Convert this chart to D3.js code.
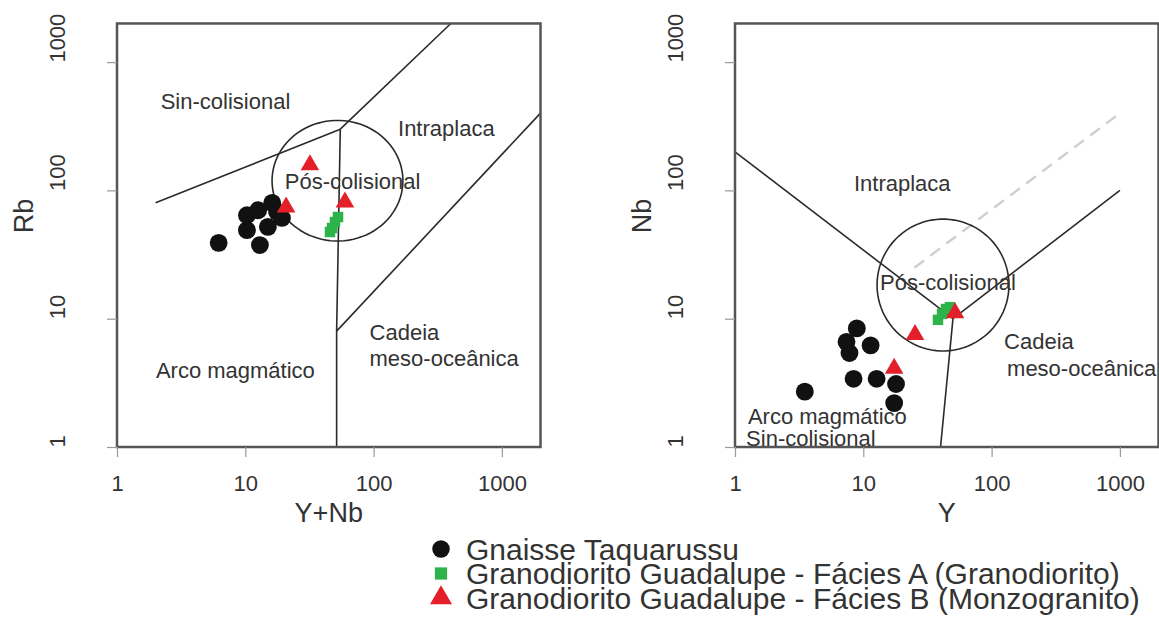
<!DOCTYPE html>
<html>
<head>
<meta charset="utf-8">
<script src="https://cdn.jsdelivr.net/npm/d3@7"></script>
<style>
  body { margin: 0; background: #fff; }
  text { font-family: "Liberation Sans", Arial, sans-serif; fill: #333; }
</style>
</head>
<body>
<div id="viz"></div>
<script>
// ---- data ----
// Rb vs Y+Nb
let gnaisseYNb = [6.2, 10.3, 13.0, 10.3, 12.6, 16.2, 15.0, 19.3, 17.7]
let gnaisseRb  = [39, 49, 37.5, 64, 70, 80, 52, 61, 68]
let faciesAYNb = [45.7, 47.4, 50.0, 52.8]
let faciesARb  = [47.4, 50.9, 56.7, 62]
let faciesBYNb = [31.9, 20.8, 59.8]
let faciesBRb  = [158, 74, 81]

// Nb vs Y
let gnaisseY  = [3.5, 8.9, 7.4, 7.8, 11.4, 8.4, 12.7, 18.0, 17.4]
let gnaisseNb = [2.7, 8.4, 6.6, 5.4, 6.2, 3.4, 3.4, 3.1, 2.2]
let faciesAY  = [38.2, 41.1, 44.1, 47.4]
let faciesANb = [9.8, 10.9, 11.9, 12.3]
let faciesBY  = [25.3, 17.4, 51.9]
let faciesBNb = [7.5, 4.1, 11.1]

// field boundaries (Pearce et al. 1984)
let rbLines = [
  [[2, 80], [55, 300]],
  [[55, 300], [400, 2000]],
  [[55, 300], [51.5, 8], [51.5, 1]],
  [[51.5, 8], [2000, 400]]
]
let nbLines = [
  [[1, 200], [50, 10]],
  [[50, 10], [1000, 100]],
  [[50, 10], [40, 1]]
]
let nbDashed = [[25, 25], [1000, 400]]

// post-collisional circle: centre and radius in log units
let rbCircle = {cx: 52.3, cy: 119, rx: 0.51, ry: 0.47}
let nbCircle = {cx: 41.8, cy: 18.3, rx: 0.514, ry: 0.514}

let rbLabels = [
  {t: "Sin-colisional", x: 2.19, y: 491, a: "start"},
  {t: "Intraplaca", x: 155, y: 306, a: "start"},
  {t: "Pós-colisional", x: 68.6, y: 117, a: "middle"},
  {t: "Arco magmático", x: 2.01, y: 3.98, a: "start"},
  {t: "Cadeia", x: 93, y: 7.78, a: "start"},
  {t: "meso-oceânica", x: 93, y: 4.94, a: "start"}
]
let nbLabels = [
  {t: "Intraplaca", x: 8.46, y: 114, a: "start"},
  {t: "Pós-colisional", x: 45.7, y: 19.3, a: "middle"},
  {t: "Cadeia", x: 125, y: 6.62, a: "start"},
  {t: "meso-oceânica", x: 132, y: 4.13, a: "start"},
  {t: "Arco magmático", x: 1.26, y: 1.72, a: "start"},
  {t: "Sin-colisional", x: 1.22, y: 1.16, a: "start"}
]

let tickValues = [1, 10, 100, 1000]
let domain = [1, 2000]
let legendNames = [
  "Gnaisse Taquarussu",
  "Granodiorito Guadalupe - Fácies A (Granodiorito)",
  "Granodiorito Guadalupe - Fácies B (Monzogranito)"
]
let colors = ["#111111", "#2db34a", "#e3202a"]
let shapes = [d3.symbolCircle, d3.symbolSquare, d3.symbolTriangle]

// ---- layout ----
let W = 1159, H = 619
let decade = 128.3
let plotSize = decade * Math.log10(2000)
let plotBottom = 447
let plotTop = plotBottom - plotSize

var svg = d3.select("#viz")
  .append("svg")
    .attr("width", W)
    .attr("height", H)

function drawPanel(x0, xTitle, yTitle, lines, dashed, circ, labels, series) {
  let xScale = d3.scaleLog().domain(domain).range([x0, x0 + plotSize])
  let yScale = d3.scaleLog().domain(domain).range([plotBottom, plotTop])
  let g = svg.append("g")

  let line = d3.line().x(d => xScale(d[0])).y(d => yScale(d[1]))

  // boundaries
  g.selectAll(".bound")
    .data(lines)
    .join("path")
      .attr("d", line)
      .attr("fill", "none")
      .attr("stroke", "#2a2a2a")
      .attr("stroke-width", 1.6)

  if (dashed) {
    g.append("path")
      .attr("d", line(dashed))
      .attr("fill", "none")
      .attr("stroke", "#cfcfcf")
      .attr("stroke-width", 2.5)
      .attr("stroke-dasharray", "12,8")
  }

  // circle in log space
  let pts = d3.range(0, 361, 4).map(a => {
    let r = a * Math.PI / 180
    return [Math.pow(10, Math.log10(circ.cx) + circ.rx * Math.cos(r)),
            Math.pow(10, Math.log10(circ.cy) + circ.ry * Math.sin(r))]
  })
  g.append("path")
    .attr("d", line(pts))
    .attr("fill", "none")
    .attr("stroke", "#2a2a2a")
    .attr("stroke-width", 1.6)

  // field labels
  g.selectAll(".lab")
    .data(labels)
    .join("text")
      .attr("x", d => xScale(d.x))
      .attr("y", d => yScale(d.y))
      .attr("dy", "0.35em")
      .attr("text-anchor", d => d.a)
      .attr("font-size", 22)
      .text(d => d.t)

  // points
  series.forEach((s, i) => {
    let sym = d3.symbol().type(shapes[i]).size([250, 110, 150][i])
    g.selectAll(".pt" + i)
      .data(d3.zip(s[0], s[1]))
      .join("path")
        .attr("d", sym)
        .attr("transform", d => `translate(${xScale(d[0])},${yScale(d[1])})`)
        .attr("fill", colors[i])
  })

  // frame
  g.append("rect")
    .attr("x", x0)
    .attr("y", plotTop)
    .attr("width", plotSize)
    .attr("height", plotBottom - plotTop)
    .attr("fill", "none")
    .attr("stroke", "#555")
    .attr("stroke-width", 2.5)

  // axes
  let xAxis = d3.axisBottom(xScale).tickValues(tickValues).tickFormat(d3.format("d")).tickSize(10).tickPadding(18)
  let yAxis = d3.axisLeft(yScale).tickValues(tickValues).tickFormat(d3.format("d")).tickSize(10)

  let gx = g.append("g").attr("transform", `translate(0,${plotBottom})`).call(xAxis)
  gx.select(".domain").remove()
  gx.selectAll("line").attr("stroke", "#999").attr("stroke-width", 1.2)
  gx.selectAll("text").attr("font-size", 22).attr("fill", "#333").attr("font-family", "Liberation Sans, Arial, sans-serif")

  let gy = g.append("g").attr("transform", `translate(${x0},0)`).call(yAxis)
  gy.select(".domain").remove()
  gy.selectAll("line").attr("stroke", "#999").attr("stroke-width", 1.2)
  gy.selectAll("text")
    .attr("font-size", 22).attr("fill", "#333").attr("font-family", "Liberation Sans, Arial, sans-serif")
    .attr("x", null).attr("dy", null)
    .attr("text-anchor", "start")
    .attr("transform", "translate(-52,0) rotate(-90)")

  // axis titles
  g.append("text")
    .attr("transform", `translate(${x0 - 93},216) rotate(-90)`)
    .attr("text-anchor", "middle")
    .attr("dy", "0.35em")
    .attr("font-size", 27)
    .text(yTitle)

  g.append("text")
    .attr("x", x0 + plotSize / 2)
    .attr("y", 522)
    .attr("text-anchor", "middle")
    .attr("font-size", 27)
    .text(xTitle)
}

drawPanel(117, "Y+Nb", "Rb", rbLines, null, rbCircle, rbLabels,
  [[gnaisseYNb, gnaisseRb], [faciesAYNb, faciesARb], [faciesBYNb, faciesBRb]])
drawPanel(735, "Y", "Nb", nbLines, nbDashed, nbCircle, nbLabels,
  [[gnaisseY, gnaisseNb], [faciesAY, faciesANb], [faciesBY, faciesBNb]])

// legend
let legend = svg.append("g")
legend.selectAll("path")
  .data(legendNames)
  .join("path")
    .attr("d", (d, i) => d3.symbol().type(shapes[i]).size([240, 150, 210][i])())
    .attr("transform", (d, i) => `translate(441,${549 + i * 24.5})`)
    .attr("fill", (d, i) => colors[i])
legend.selectAll("text")
  .data(legendNames)
  .join("text")
    .attr("x", 466)
    .attr("y", (d, i) => 549 + i * 24.5)
    .attr("dy", "0.35em")
    .attr("font-size", 30)
    .text(d => d)
</script>
</body>
</html>
